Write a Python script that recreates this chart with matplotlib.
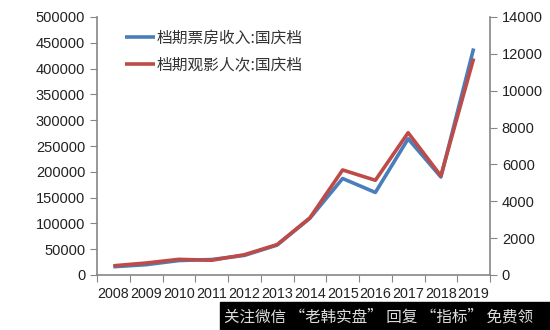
import matplotlib.pyplot as plt
import matplotlib.patches as mpatches

plt.rcParams['font.family'] = ['Liberation Sans', 'Noto Sans CJK SC']

years = ['2008', '2009', '2010', '2011', '2012', '2013', '2014', '2015', '2016', '2017', '2018', '2019']
box_office = [16000, 20000, 28000, 30000, 38000, 58000, 110000, 187000, 160000, 264000, 190000, 439000]
admissions = [500, 650, 850, 800, 1100, 1650, 3100, 5700, 5140, 7720, 5380, 11750]
label_box = '档期票房收入:国庆档'
label_adm = '档期观影人次:国庆档'
watermark = '关注微信 “老韩实盘” 回复 “指标” 免费领'

blue = '#4A7EBB'
red = '#BE4B48'
grey = '#868686'

fig = plt.figure(figsize=(5.5, 3.3), dpi=100)
ax = fig.add_axes([97 / 550, 1 - 275 / 330, 393 / 550, 258 / 330])
ax2 = ax.twinx()

x = list(range(len(years)))
l1, = ax.plot(x, box_office, color=blue, lw=2.6, solid_capstyle='butt', zorder=2)
l2, = ax2.plot(x, admissions, color=red, lw=2.6, solid_capstyle='butt', zorder=3)
ax.set_zorder(ax2.get_zorder() - 1)
ax.patch.set_visible(False)

ax.set_xlim(-0.5, len(years) - 0.5)
ax.set_ylim(0, 500000)
ax2.set_ylim(0, 14000)
ax.set_yticks(range(0, 500001, 50000))
ax2.set_yticks(range(0, 14001, 2000))

# category axis: ticks between categories, labels at the centres
ax.set_xticks([i - 0.5 for i in range(len(years) + 1)])
ax.set_xticklabels([])
ax.set_xticks(x, minor=True)
ax.set_xticklabels(years, minor=True, fontsize=10.3, color='#222222')
ax.tick_params(axis='x', which='minor', length=0, pad=9)
ax.tick_params(axis='x', which='major', length=5, color=grey, direction='out')

ax.tick_params(axis='y', length=5, color=grey, labelsize=10.5, labelcolor='#222222')
ax2.tick_params(axis='y', length=5, color=grey, labelsize=10.5, labelcolor='#222222')

for a in (ax, ax2):
    a.spines['top'].set_visible(False)
    for s in ('left', 'right', 'bottom'):
        a.spines[s].set_color(grey)
        a.spines[s].set_linewidth(1.2)
ax.spines['right'].set_visible(False)
ax2.spines['left'].set_visible(False)
ax2.spines['bottom'].set_visible(False)

leg = ax.legend([l1, l2], [label_box, label_adm], loc='upper left',
                bbox_to_anchor=(0.055, 0.975), frameon=False, handlelength=1.9,
                handletextpad=0.1, labelspacing=0.6, borderaxespad=0,
                prop={'family': ['Noto Sans CJK SC'], 'size': 11.3})
for t in leg.get_texts():
    t.set_color('#333333')

# watermark bar along the bottom edge
fig.patches.append(mpatches.Rectangle((220 / 550, 0), 330 / 550, 28 / 330,
                                      transform=fig.transFigure, color='black', zorder=5))
fig.text(224 / 550, 13 / 330, watermark, color='#dddddd', fontsize=11.2, va='center',
         ha='left', family=['Noto Sans CJK SC'], zorder=6)

fig.savefig('out.png', dpi=100)
